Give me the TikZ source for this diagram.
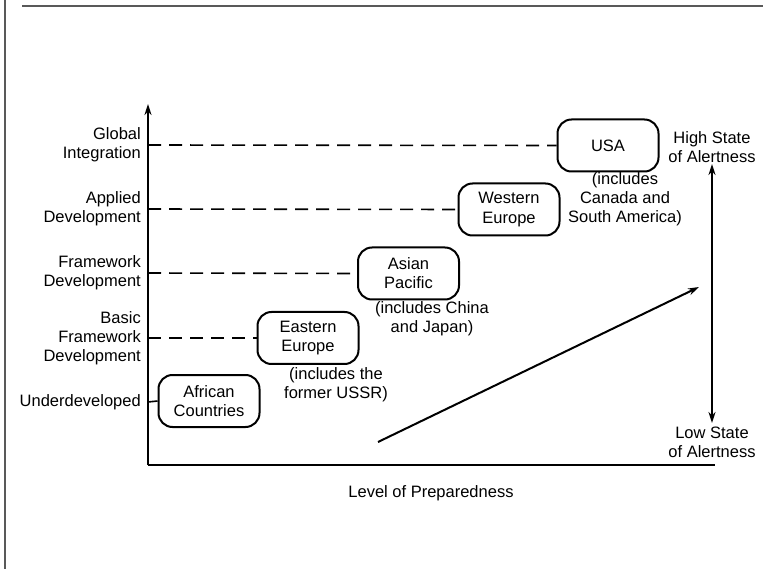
\documentclass[tikz,border=0pt]{standalone}
\usepackage{fontspec}
\setmainfont{Liberation Sans}
\usetikzlibrary{arrows.meta}
\begin{document}
\begin{tikzpicture}[x=1pt,y=-1pt,
  font=\fontsize{16.5}{19.2}\selectfont,
  axisline/.style={line width=2pt},
  arrowline/.style={line width=2pt,-{Stealth[length=11pt,width=7pt]}},
  region/.style={draw,line width=2pt,rounded corners=14pt,minimum width=101pt,minimum height=52pt,align=center,inner sep=2pt},
  level/.style={align=right,anchor=east,inner sep=0pt},
  note/.style={align=center,inner sep=0pt},
  guide/.style={line width=1.6pt,dash pattern=on 13pt off 8pt}]
\useasboundingbox (0,0) rectangle (774,569);
% page frame
\draw[line width=1.5pt,gray!70!black] (5,0) -- (5,569);
\draw[line width=1.5pt,gray!70!black] (22,6) -- (763,6);

% axes
\coordinate (origin) at (148,465);
\coordinate (ytop) at (148,104);
\coordinate (xend) at (715,465);
\draw[axisline,-{Stealth[length=11pt,width=7pt]}] (origin) -- (ytop);
\draw[axisline] (origin) -- (xend);

% level labels and ticks
\node[level] (l5) at (141,145) {Global\\Integration};
\node[level] (l4) at (141,209) {Applied\\Development};
\node[level] (l3) at (141,273) {Framework\\Development};
\node[level] (l2) at (141,338) {Basic\\Framework\\Development};
\node[level] (l1) at (141,402) {Underdeveloped};
\foreach \i/\y in {5/145,4/209,3/273,2/338,1/402}
  \coordinate (t\i) at (148,\y);

% regions
\node[region] (usa) at (608,145.5) {USA};
\node[region] (weu) at (509,209.5) {Western\\Europe};
\node[region] (asp) at (408.5,273.5) {Asian\\Pacific};
\node[region] (eeu) at (308,338) {Eastern\\Europe};
\node[region] (afr) at (209,401) {African\\Countries};

\draw[guide] (t5) -- (usa.west);
\draw[guide] (t4) -- (weu.west);
\draw[guide] (t3) -- (asp.west);
\draw[guide] (t2) -- (eeu.west);
\draw[line width=1.6pt] (t1) -- (afr.west);

% notes
\node[note] (nusa) at (625,199) {(includes\\Canada and\\South America)};
\node[note] (nasp) at (432,319) {(includes China\\and Japan)};
\node[note] (neeu) at (336,385) {(includes the\\former USSR)};

% alertness scale
\node[note] (high) at (712,147) {High State\\of Alertness};
\node[note] (low) at (712,442) {Low State\\of Alertness};
\coordinate (atop) at (712,164);
\coordinate (abot) at (712,423);
\draw[line width=2pt,{Stealth[length=11pt,width=7pt]}-{Stealth[length=11pt,width=7pt]}] (atop) -- (abot);

% trend arrow
\coordinate (trs) at (378,442);
\coordinate (tre) at (699,287);
\draw[arrowline] (trs) -- (tre);

% axis title
\node[note] (xlab) at (431,493) {Level of Preparedness};
\end{tikzpicture}
\end{document}
